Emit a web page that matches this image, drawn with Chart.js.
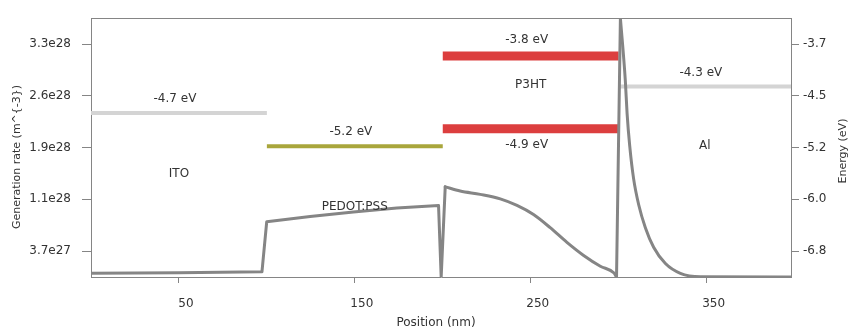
<!DOCTYPE html>
<html>
<head>
<meta charset="utf-8">
<script src="https://cdn.jsdelivr.net/npm/chart.js@4.4.0/dist/chart.umd.min.js"></script>
<style>
  html, body { margin: 0; padding: 0; background: #fff; }
</style>
</head>
<body>
<canvas id="bandChart" width="848" height="332"></canvas>
<script>
// generation rate profile across the stack (x in nm, y in units of 1e28 m^-3)
const genX = [0, 50, 97.2, 99.9, 124.6, 149.2, 173.9, 197.6, 199.1, 201.4, 209.9, 221.3, 232.7, 242.2,
    251.6, 261.1, 270.6, 280.1, 289.6, 297.2, 298.8, 301.0, 303.8, 304.8, 306.3, 308.5, 311.4, 315.2,
    319.9, 326.6, 335.1, 346.5, 398];
const genY = [0.052, 0.062, 0.074, 0.789, 0.866, 0.929, 0.985, 1.023, 0, 1.289, 1.229, 1.181, 1.117, 1.023,
    0.893, 0.705, 0.495, 0.308, 0.154, 0.060, 0, 3.70, 2.807, 2.340, 1.874, 1.406, 1.033, 0.705,
    0.425, 0.192, 0.052, 0.004, 0];
// index ranges of the profile: straight pieces and smooth curves
const genPieces = [[0, 9, false], [9, 20, true], [20, 21, false], [21, 32, true]];

// layers
const layerNames = ['ITO', 'PEDOT:PSS', 'P3HT', 'Al'];
const layerStart = [0, 100, 200, 300];
const layerEnd = [100, 200, 300, 398];
const layerLabelEnergy = [-5.65, -6.15, -4.30, -5.22];

// energy levels (eV)
const levelLayer = [0, 1, 2, 2, 3];
const levelEnergy = [-4.7, -5.2, -3.8, -4.9, -4.3];
const levelLabels = ['-4.7 eV', '-5.2 eV', '-3.8 eV', '-4.9 eV', '-4.3 eV'];
const levelColors = ['#d4d4d4', '#a9a63c', '#dc3e3e', '#dc3e3e', '#d4d4d4'];
const levelWidths = [4, 4, 9, 9, 4];
const levelLabelBelow = [false, false, false, true, false];

// axes
const xTicks = [50, 150, 250, 350];
const genMax = 3.7;
const genTicks = [0.37, 1.11, 1.85, 2.59, 3.33];
const genTickLabels = ['3.7e27', '1.1e28', '1.9e28', '2.6e28', '3.3e28'];
const eMin = -7.2, eMax = -3.3;
const eTicks = [-6.81, -6.03, -5.25, -4.47, -3.69];
const eTickLabels = ['-6.8', '-6.0', '-5.2', '-4.5', '-3.7'];

const FONT = '"DejaVu Sans", Verdana, sans-serif';
const TEXT = '#333';
const AXIS = '#858585';

const datasets = [];
genPieces.forEach(p => {
    const pts = [];
    for (let i = p[0]; i <= p[1]; i++) pts.push({ x: genX[i], y: genY[i] * 1e28 });
    datasets.push({
        label: 'Generation rate',
        data: pts,
        yAxisID: 'y',
        borderColor: '#858585',
        borderWidth: 3,
        borderCapStyle: 'round',
        borderJoinStyle: 'round',
        pointRadius: 0,
        cubicInterpolationMode: p[2] ? 'monotone' : 'default',
        tension: 0,
        fill: false
    });
});
levelEnergy.forEach((e, i) => {
    const l = levelLayer[i];
    datasets.push({
        label: levelLabels[i],
        data: [{ x: layerStart[l], y: e }, { x: layerEnd[l], y: e }],
        yAxisID: 'y2',
        borderColor: levelColors[i],
        borderWidth: levelWidths[i],
        borderCapStyle: 'butt',
        pointRadius: 0,
        levelShift: true
    });
});

// level bars hang below their value, like the original plot
const levelShiftPlugin = {
    id: 'levelShift',
    beforeDatasetDraw(chart, args) {
        const ds = chart.data.datasets[args.index];
        if (ds.levelShift) {
            chart.ctx.save();
            chart.ctx.translate(0, ds.borderWidth / 2);
        }
    },
    afterDatasetDraw(chart, args) {
        if (chart.data.datasets[args.index].levelShift) chart.ctx.restore();
    }
};

const labelsPlugin = {
    id: 'bandLabels',
    afterDraw(chart) {
        const ctx = chart.ctx;
        const xs = chart.scales.x, y2 = chart.scales.y2;
        const area = chart.chartArea;
        ctx.save();
        // top frame line
        ctx.strokeStyle = AXIS;
        ctx.lineWidth = 1;
        ctx.beginPath();
        ctx.moveTo(area.left, Math.round(area.top) + 0.5);
        ctx.lineTo(area.right, Math.round(area.top) + 0.5);
        ctx.stroke();

        ctx.fillStyle = TEXT;
        ctx.textAlign = 'center';
        ctx.textBaseline = 'middle';
        ctx.font = '12px ' + FONT;
        layerNames.forEach((name, i) => {
            const cx = xs.getPixelForValue((layerStart[i] + layerEnd[i]) / 2);
            ctx.fillText(name, cx, y2.getPixelForValue(layerLabelEnergy[i]));
        });
        levelLabels.forEach((txt, i) => {
            const l = levelLayer[i];
            const cx = xs.getPixelForValue((layerStart[l] + layerEnd[l]) / 2) - 4;
            const py = y2.getPixelForValue(levelEnergy[i]);
            const ty = levelLabelBelow[i] ? py + levelWidths[i] + 12 : py - 12;
            ctx.fillText(txt, cx, ty);
        });

        // axis titles
        ctx.fillText('Position (nm)', 436, 323);
        ctx.font = '11px ' + FONT;
        ctx.save();
        ctx.translate(17, 157);
        ctx.rotate(-Math.PI / 2);
        ctx.fillText('Generation rate (m^{-3})', 0, 0);
        ctx.restore();
        ctx.save();
        ctx.translate(843, 151);
        ctx.rotate(-Math.PI / 2);
        ctx.fillText('Energy (eV)', 0, 0);
        ctx.restore();
        ctx.restore();
    }
};

const bandCtx = document.getElementById('bandChart').getContext('2d');
const bandChart = new Chart(bandCtx, {
    type: 'line',
    data: { datasets: datasets },
    options: {
        responsive: false,
        animation: false,
        devicePixelRatio: 1,
        layout: { padding: { top: 13, left: 0, right: 0, bottom: 0 } },
        plugins: {
            legend: { display: false },
            tooltip: { enabled: false }
        },
        scales: {
            x: {
                type: 'linear',
                min: 0,
                max: 398,
                afterBuildTicks: s => { s.ticks = xTicks.map(v => ({ value: v })); },
                afterFit: s => { s.height = 55; },
                border: { display: true, color: AXIS, width: 1 },
                grid: { drawOnChartArea: false, drawTicks: true, tickLength: 6, color: AXIS },
                ticks: {
                    color: TEXT,
                    font: { family: FONT, size: 12 },
                    padding: 14,
                    labelOffset: 7,
                    maxRotation: 0,
                    autoSkip: false
                }
            },
            y: {
                type: 'linear',
                position: 'left',
                min: 0,
                max: genMax * 1e28,
                afterBuildTicks: s => { s.ticks = genTicks.map(v => ({ value: v * 1e28 })); },
                afterFit: s => { s.width = 91; },
                border: { display: true, color: AXIS, width: 1 },
                grid: { drawOnChartArea: false, drawTicks: true, tickLength: 9, color: AXIS },
                ticks: {
                    color: TEXT,
                    font: { family: FONT, size: 12 },
                    padding: 11,
                    callback: (v, i) => genTickLabels[i]
                }
            },
            y2: {
                type: 'linear',
                position: 'right',
                min: eMin,
                max: eMax,
                afterBuildTicks: s => { s.ticks = eTicks.map(v => ({ value: v })); },
                afterFit: s => { s.width = 57; },
                border: { display: true, color: AXIS, width: 1 },
                grid: { drawOnChartArea: false, drawTicks: true, tickLength: 8, color: AXIS },
                ticks: {
                    color: TEXT,
                    font: { family: FONT, size: 12 },
                    padding: 4,
                    callback: (v, i) => eTickLabels[i]
                }
            }
        }
    },
    plugins: [levelShiftPlugin, labelsPlugin]
});
</script>
</body>
</html>
